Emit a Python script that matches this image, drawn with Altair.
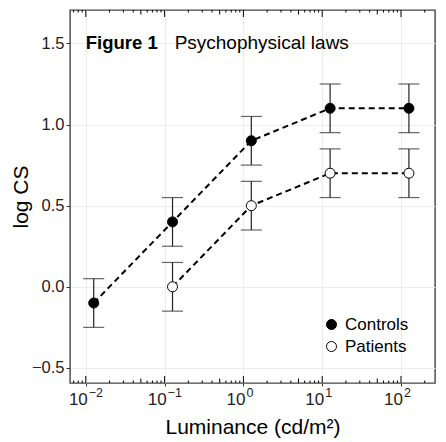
import altair as alt
import pandas as pd

# luminance (cd/m2) and log contrast sensitivity
lum_controls = [0.0126, 0.126, 1.26, 12.6, 126]
cs_controls = [-0.1, 0.4, 0.9, 1.1, 1.1]
lum_patients = [0.126, 1.26, 12.6, 126]
cs_patients = [0.0, 0.5, 0.7, 0.7]
err = 0.15

decades = [0.01, 0.1, 1, 10, 100]
exponents = ["\u22122", "\u22121", "0", "1", "2"]
y_ticks = [-0.5, 0.0, 0.5, 1.0, 1.5]

annot_x = [0.01, 0.134]
annot_y = [1.5, 1.5]
annot_text = ["Figure 1", "Psychophysical laws"]

x_domain = [0.0063, 270]
y_domain = [-0.593, 1.706]

W, H = 365, 373
FONT = "Liberation Sans"

rows = []
for x, y in zip(lum_controls, cs_controls):
    rows.append({"group": "Controls", "lum": x, "cs": y, "lo": y - err, "hi": y + err})
for x, y in zip(lum_patients, cs_patients):
    rows.append({"group": "Patients", "lum": x, "cs": y, "lo": y - err, "hi": y + err})
data = pd.DataFrame(rows)

# log tick positions (annotation_logticks style)
long_t = [d for d in decades]
mid_t = [5 * 10.0 ** k for k in range(-3, 3)]
short_t = [m * 10.0 ** k for k in range(-3, 3) for m in [2, 3, 4, 6, 7, 8, 9]]
inside = lambda v: [t for t in v if x_domain[0] <= t <= x_domain[1]]
long_t, mid_t, short_t = inside(long_t), inside(mid_t), inside(short_t)

xs = alt.Scale(type="log", domain=x_domain, nice=False)
ys = alt.Scale(domain=y_domain, nice=False, zero=False)

x_enc = alt.X("lum:Q", scale=xs,
              axis=alt.Axis(values=decades, labels=False, tickSize=3, tickColor="#333",
                            tickWidth=1, grid=True, gridColor="#ececec", domain=False,
                            title="Luminance (cd/m\u00b2)", titleFontSize=21,
                            titleFont=FONT, titleFontWeight="normal", titleColor="black",
                            titlePadding=30))
y_enc = alt.Y("cs:Q", scale=ys,
              axis=alt.Axis(values=y_ticks, format=".1f", tickSize=4, tickColor="#333",
                            grid=True, gridColor="#ececec", domain=False,
                            labelFontSize=16.5, labelFont=FONT, labelColor="#222",
                            labelPadding=2,
                            title="log CS", titleFontSize=21, titleFont=FONT,
                            titleFontWeight="normal", titleColor="black", titlePadding=0))

base = alt.Chart(data)

lines = base.mark_line(strokeDash=[6, 4], strokeWidth=2, color="black").encode(
    x=x_enc, y=y_enc, detail="group:N")

bars = base.mark_rule(color="#222", strokeWidth=1.2).encode(
    x="lum:Q", y="lo:Q", y2="hi:Q")
cap_lo = base.mark_tick(orient="horizontal", size=21, thickness=1.2, color="#222").encode(
    x="lum:Q", y="lo:Q")
cap_hi = base.mark_tick(orient="horizontal", size=21, thickness=1.2, color="#222").encode(
    x="lum:Q", y="hi:Q")

points = base.mark_point(filled=False, size=100, shape="circle", stroke="black",
                         strokeWidth=1, opacity=1, fillOpacity=1).encode(
    x="lum:Q", y="cs:Q",
    fill=alt.Fill("group:N",
                  scale=alt.Scale(domain=["Controls", "Patients"], range=["black", "white"]),
                  legend=alt.Legend(title=None, orient="none", legendX=253, legendY=306,
                                    symbolType="circle", symbolSize=100,
                                    symbolStrokeColor="black", symbolStrokeWidth=1,
                                    labelFontSize=17, labelFont=FONT, labelColor="black",
                                    labelOffset=5, rowPadding=4, padding=0)))

annot = pd.DataFrame({"x": annot_x, "y": annot_y, "t": annot_text})
title_bold = alt.Chart(annot.iloc[:1]).mark_text(
    align="left", baseline="middle", fontSize=18.5, fontWeight="bold", font=FONT,
    color="black").encode(x="x:Q", y="y:Q", text="t:N")
title_plain = alt.Chart(annot.iloc[1:]).mark_text(
    align="left", baseline="middle", fontSize=19, font=FONT,
    color="black").encode(x="x:Q", y="y:Q", text="t:N")

# x tick labels: 10 with superscript exponent
lab = pd.DataFrame({"x": decades, "e": exponents, "b": ["10"] * len(decades)})
lab_base = alt.Chart(lab).mark_text(align="right", baseline="middle", fontSize=17,
                                    font=FONT, color="#222", dx=2).encode(
    x="x:Q", y=alt.value(H + 17), text="b:N")
lab_exp = alt.Chart(lab).mark_text(align="left", baseline="middle", fontSize=12.5,
                                   font=FONT, color="#222", dx=3).encode(
    x="x:Q", y=alt.value(H + 10), text="e:N")


def ticks(vals, length):
    df = pd.DataFrame({"t": vals})
    bot = alt.Chart(df).mark_rule(color="black", strokeWidth=1).encode(
        x="t:Q", y=alt.value(H), y2=alt.value(H - length))
    top = alt.Chart(df).mark_rule(color="black", strokeWidth=1).encode(
        x="t:Q", y=alt.value(0), y2=alt.value(length))
    return bot + top


logticks = ticks(long_t, 7) + ticks(mid_t, 4.5) + ticks(short_t, 2.5)

chart = alt.layer(
    lines, bars, cap_lo, cap_hi, points, title_bold, title_plain,
    lab_base, lab_exp, logticks
).properties(
    width=W, height=H,
    autosize=alt.AutoSizeParams(type="none"),
    padding={"left": 62, "top": 2, "right": 3, "bottom": 57},
    background="white",
).configure_view(stroke="#444", strokeWidth=1.4)

chart.save("out.html", embed_options={"renderer": "svg", "actions": False})
